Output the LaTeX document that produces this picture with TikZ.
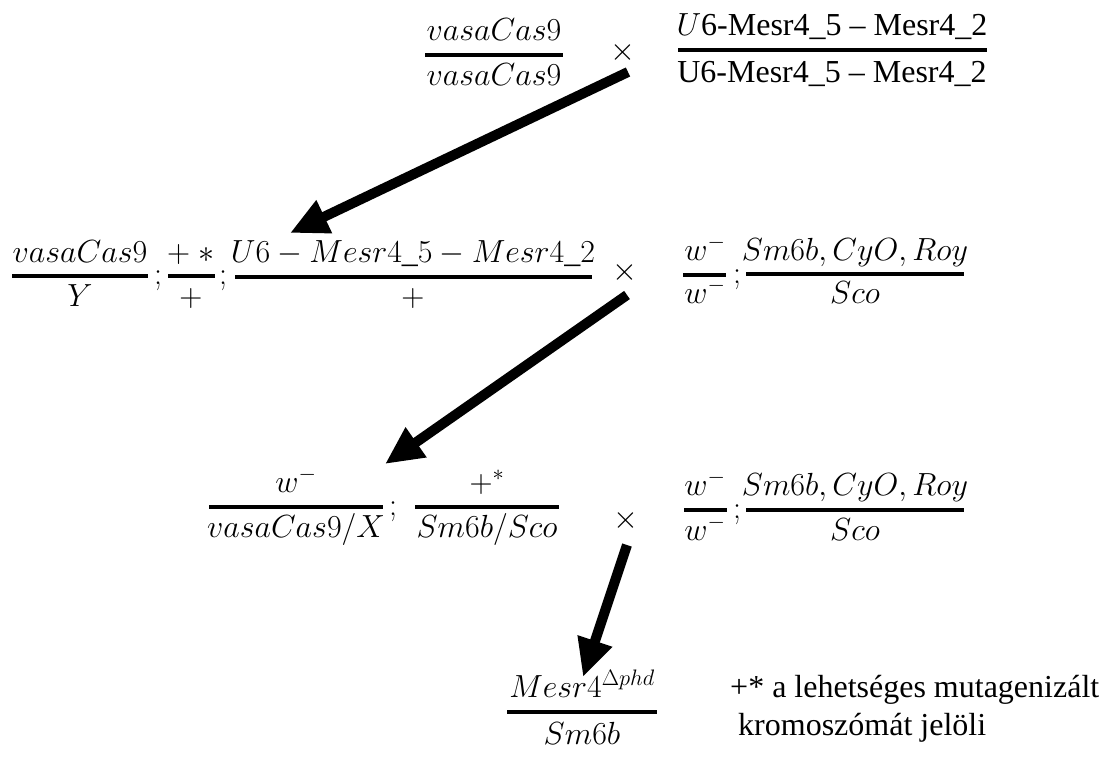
\RequirePackage{fix-cm}
\documentclass[tikz,border=0pt]{standalone}
\usepackage{fontspec}
\setmainfont{Liberation Serif}
\usetikzlibrary{arrows.meta}
\begin{document}
\begin{tikzpicture}[x=1pt,y=-1pt,
  font=\fontsize{32}{38}\selectfont,
  txt/.style={anchor=base, inner sep=0pt},
  bar/.style={line width=3.5pt},
  cross/.style={anchor=center, inner sep=0pt},
  arr/.style={line width=10pt, -{Triangle[length=38pt,width=34pt]}}]
\useasboundingbox (0,0) rectangle (1107,758);

% parental cross
\node[txt] (f1n) at (494,40) {$vasaCas9$};
\node[txt] (f1d) at (494,85) {$vasaCas9$};
\draw[bar] (425,55) -- (563,55);
\node[cross] (x1) at (623,52) {$\times$};
\node[txt] (f2n) at (832,35) {$U$6-Mesr4\_5 – Mesr4\_2};
\node[txt] (f2d) at (832,82) {U6-Mesr4\_5 – Mesr4\_2};
\draw[bar] (678,50) -- (987,50);

% F1 male x balancer females
\node[txt] (f3n) at (80,262) {$vasaCas9$};
\node[txt] (f3d) at (80,306) {$Y$};
\draw[bar] (12,276) -- (148,276);
\node[txt] (s1) at (158,284) {$;$};
\node[txt] (f4n) at (191,262) {${+}\;{\ast}$};
\node[txt] (f4d) at (191,306) {$+$};
\draw[bar] (168,276) -- (215,276);
\node[txt] (s2) at (223,284) {$;$};
\node[txt] (f5n) at (413,262) {$U6-Mesr4\_5-Mesr4\_2$};
\node[txt] (f5d) at (413,306) {$+$};
\draw[bar] (235,277) -- (592,277);
\node[cross] (x2) at (625,272) {$\times$};
\node[txt] (f6n) at (705,260) {$w^{-}$};
\node[txt] (f6d) at (705,303) {$w^{-}$};
\draw[bar] (683,275) -- (726,275);
\node[txt] (s3) at (737,283) {$;$};
\node[txt] (f7n) at (855,260) {$Sm6b,CyO,Roy$};
\node[txt] (f7d) at (855,303) {$Sco$};
\draw[bar] (746,274) -- (964,274);

% F2 female x balancer males
\node[txt] (f8n) at (296,492) {$w^{-}$};
\node[txt] (f8d) at (296,537) {$vasaCas9/X$};
\draw[bar] (209,507) -- (383,507);
\node[txt] (s4) at (393,515) {$;$};
\node[txt] (f9n) at (487,492) {$+^{*}$};
\node[txt] (f9d) at (487,537) {$Sm6b/Sco$};
\draw[bar] (415,507) -- (559,507);
\node[cross] (x3) at (626,520) {$\times$};
\node[txt] (f10n) at (705,495) {$w^{-}$};
\node[txt] (f10d) at (705,540) {$w^{-}$};
\draw[bar] (684,510) -- (727,510);
\node[txt] (s5) at (737,518) {$;$};
\node[txt] (f11n) at (855,495) {$Sm6b,CyO,Roy$};
\node[txt] (f11d) at (855,540) {$Sco$};
\draw[bar] (746,510) -- (964,510);

% F3 mutant stock
\node[txt] (f12n) at (582,697) {$Mesr4^{\Delta phd}$};
\node[txt] (f12d) at (582,744) {$Sm6b$};
\draw[bar] (507,712) -- (657,712);
\node[txt, anchor=base west] (note1) at (730,697) {+* a lehetséges mutagenizált};
\node[txt, anchor=base west] (note2) at (738,735) {kromoszómát jelöli};

% arrows between generations
\coordinate (a1s) at (628,72);
\coordinate (a1e) at (290,233);
\coordinate (a2s) at (627,295);
\coordinate (a2e) at (385,464);
\coordinate (a3s) at (627,545);
\coordinate (a3e) at (583,677);
\draw[arr] (a1s) -- (a1e);
\draw[arr] (a2s) -- (a2e);
\draw[arr] (a3s) -- (a3e);
\end{tikzpicture}
\end{document}
